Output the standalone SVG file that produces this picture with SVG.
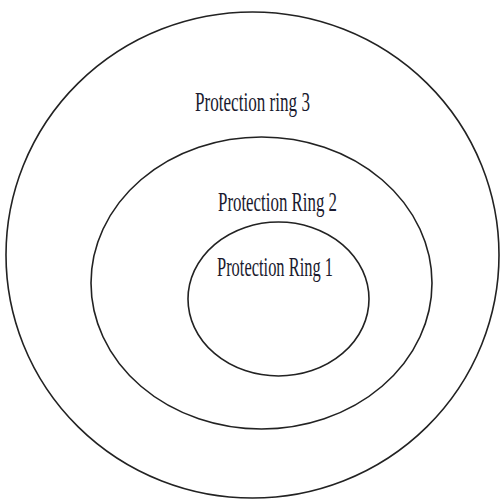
<svg xmlns="http://www.w3.org/2000/svg" width="500" height="500" viewBox="0 0 500 500">
<style>
.ring{fill:none;stroke:#222;stroke-width:1.6}
.lbl{font-family:"Liberation Serif","Times New Roman",serif;font-size:27px;fill:#1a1a2e}
</style>
<rect width="500" height="500" fill="#fff"/>
<g id="ring3">
<ellipse class="ring" cx="252.5" cy="255" rx="246.5" ry="243"/>
<text class="lbl" x="195" y="111" textLength="115" lengthAdjust="spacingAndGlyphs">Protection ring 3</text>
</g>
<g id="ring2">
<ellipse class="ring" cx="261.5" cy="283" rx="170.5" ry="146"/>
<text class="lbl" x="218" y="211" textLength="119" lengthAdjust="spacingAndGlyphs">Protection Ring 2</text>
</g>
<g id="ring1">
<ellipse class="ring" cx="278.5" cy="299" rx="90.5" ry="77"/>
<text class="lbl" x="217" y="276" textLength="116" lengthAdjust="spacingAndGlyphs">Protection Ring 1</text>
</g>
</svg>
